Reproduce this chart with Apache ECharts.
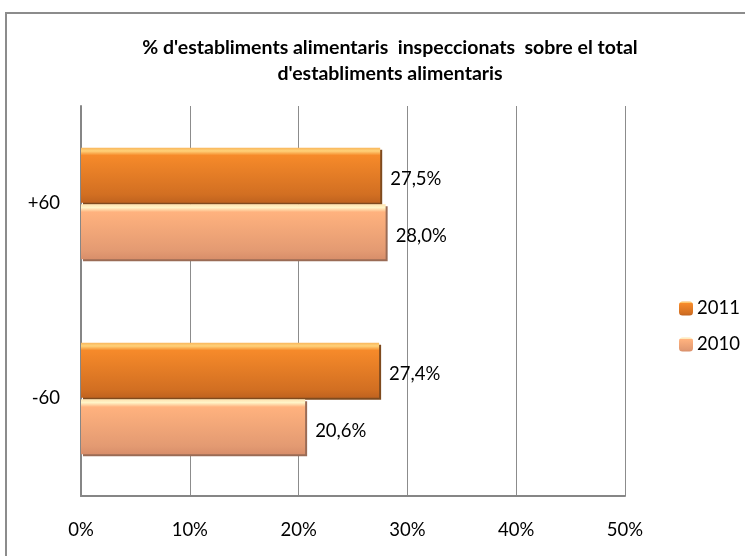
<!DOCTYPE html>
<html>
<head>
<meta charset="utf-8">
<script src="https://cdn.jsdelivr.net/npm/echarts@6/dist/echarts.min.js"></script>
<style>html,body{margin:0;padding:0;background:#fff}#c{width:745px;height:556px}</style>
</head>
<body>
<div id="c"></div>
<script>
var categories = ['-60', '+60'];
var values2011 = [27.4, 27.5];
var values2010 = [20.6, 28.0];
var xTicks = [0, 10, 20, 30, 40, 50];
var titleText = "% d'establiments alimentaris  inspeccionats  sobre el total\nd'establiments alimentaris";

var FONT = 'Lato';
var FS = 18.5;
function grad(stops) {
  return new echarts.graphic.LinearGradient(0, 0, 0, 1, stops);
}
var c2011 = grad([
  {offset: 0, color: '#F9B55A'},
  {offset: 0.06, color: '#FFD27A'},
  {offset: 0.14, color: '#F68A2A'},
  {offset: 0.85, color: '#D26F22'},
  {offset: 1, color: '#C0631F'}
]);
var c2010 = grad([
  {offset: 0, color: '#FFE3B0'},
  {offset: 0.06, color: '#FFF5C8'},
  {offset: 0.14, color: '#FFB27E'},
  {offset: 0.85, color: '#E39A72'},
  {offset: 1, color: '#D88E6A'}
]);
function fmt(p) { return p.value.toFixed(1).replace('.', ',') + '%'; }

var chart = echarts.init(document.getElementById('c'));
chart.setOption({
  animation: false,
  backgroundColor: '#fff',
  textStyle: {fontFamily: FONT},
  graphic: [{
    type: 'rect', silent: true,
    shape: {x: 6, y: 13, width: 800, height: 600},
    style: {fill: 'none', stroke: '#8C8C8C', lineWidth: 2}
  }],
  title: {
    text: titleText,
    left: 385, top: 30, textAlign: 'center',
    textStyle: {fontFamily: FONT, fontSize: 19.5, fontWeight: 'bold', color: '#000', lineHeight: 26}
  },
  legend: {
    orient: 'vertical', left: 674, top: 294,
    itemWidth: 14, itemHeight: 14, itemGap: 17,
    data: ['2011', '2010'],
    textStyle: {fontFamily: FONT, fontSize: FS, color: '#000', padding: [0, 0, 0, -1]}
  },
  grid: {left: 81, right: 120, top: 106, bottom: 60},
  xAxis: {
    type: 'value', min: xTicks[0], max: xTicks[xTicks.length - 1], interval: 10,
    axisLine: {show: true, lineStyle: {color: '#868686', width: 2}},
    axisTick: {show: false},
    splitLine: {lineStyle: {color: '#8C8C8C', width: 1}},
    axisLabel: {formatter: '{value}%', margin: 25, fontFamily: FONT, fontSize: FS, color: '#000'}
  },
  yAxis: {
    type: 'category', data: categories,
    axisLine: {show: true, lineStyle: {color: '#868686', width: 2}},
    axisTick: {show: false},
    axisLabel: {margin: 21, fontFamily: FONT, fontSize: FS, color: '#000'}
  },
  series: [
    {
      name: '2011', type: 'bar', data: values2011,
      barWidth: 55, barGap: '3%',
      itemStyle: {color: c2011, shadowColor: '#7E4A1E', shadowOffsetX: 2, shadowOffsetY: 2, shadowBlur: 0},
      label: {show: true, position: 'right', distance: 10, offset: [0, 4], formatter: fmt,
              fontFamily: FONT, fontSize: FS, color: '#000'}
    },
    {
      name: '2010', type: 'bar', data: values2010,
      barWidth: 55, barGap: '3%',
      itemStyle: {color: c2010, shadowColor: '#9A6B55', shadowOffsetX: 2, shadowOffsetY: 2, shadowBlur: 0},
      label: {show: true, position: 'right', distance: 10, offset: [0, 4], formatter: fmt,
              fontFamily: FONT, fontSize: FS, color: '#000'}
    }
  ]
});
</script>
</body>
</html>
